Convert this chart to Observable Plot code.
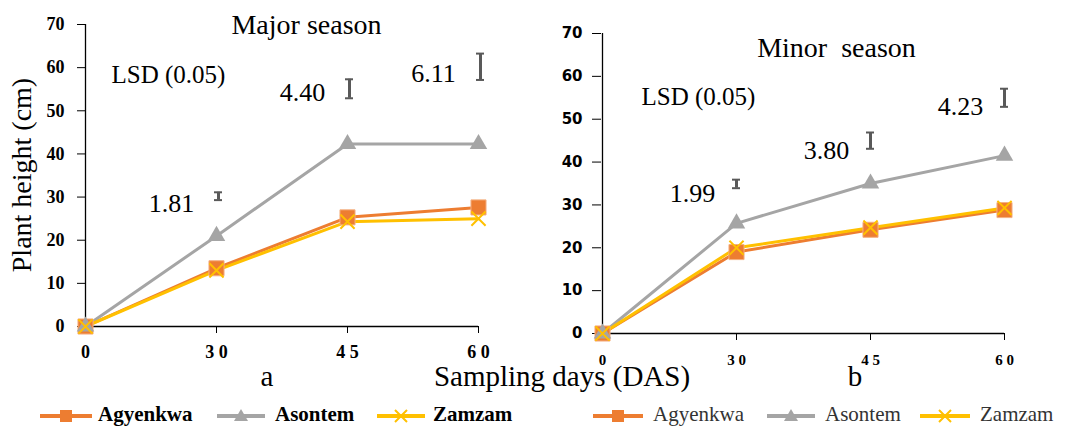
<!DOCTYPE html>
<html><head><meta charset="utf-8">
<script src="https://cdn.jsdelivr.net/npm/d3@7"></script>
<script src="https://cdn.jsdelivr.net/npm/@observablehq/plot@0.6"></script>
<style>
body{margin:0;background:#fff;}
#wrap{position:relative;width:1075px;height:427px;overflow:hidden;font-family:"Liberation Serif","Times New Roman",serif;color:#000;}
.abs{position:absolute;white-space:nowrap;line-height:1;}
</style></head><body><div id="wrap"></div>
<script>
// ---- data ----
const days = ["0", "30", "45", "60"];
const series = ["Agyenkwa", "Asontem", "Zamzam"];
const colors = ["#ED7D31", "#A5A5A5", "#FFC000"];
const symbols = ["square", "triangle", "times"];

const majorAgyenkwa = [0, 13.5, 25.3, 27.6];
const majorAsontem  = [0, 21.0, 42.3, 42.3];
const majorZamzam   = [0, 13.0, 24.3, 25.0];

const minorAgyenkwa = [0, 19.0, 24.2, 28.8];
const minorAsontem  = [0, 25.7, 35.0, 41.5];
const minorZamzam   = [0, 20.0, 24.7, 29.3];

const lsdDays = ["30", "45", "60"];
const majorLSD = [1.81, 4.40, 6.11];
const majorLSDMid = [30.2, 55.1, 60.2];
const minorLSD = [1.99, 3.80, 4.23];
const minorLSDMid = [34.9, 45.0, 55.0];

const yTicks = [0, 10, 20, 30, 40, 50, 60, 70];

// ---- build ----
function rows(arrs) {
  const out = [];
  series.forEach((s, i) => days.forEach((d, j) => out.push({series: s, day: d, value: arrs[i][j]})));
  return out;
}
function lsdRows(vals, mids) {
  return lsdDays.map((d, i) => ({day: d, lsd: vals[i], lo: mids[i] - vals[i] / 2, hi: mids[i] + vals[i] / 2}));
}
const serif = "'Liberation Serif', 'Times New Roman', serif";
const sans = "'DejaVu Sans', Verdana, sans-serif";

function panel(cfg) {
  const data = rows(cfg.values);
  const lsd = lsdRows(cfg.lsd, cfg.mid);
  const marks = [
    Plot.ruleY([0], {stroke: "#000", strokeWidth: 1.3}),
    Plot.ruleX(["0"], {stroke: "#000", strokeWidth: 1.3}),
    Plot.axisY({ticks: yTicks, tickSize: cfg.ytickSize, tickPadding: cfg.ytickPad, label: null, stroke: "#000",
      fontSize: cfg.yFont, fontWeight: "bold", fontFamily: cfg.yFamily}),
    Plot.axisX({tickSize: 7, tickPadding: cfg.xtickPad, label: null, tickFormat: d => d.split("").join(" "), stroke: "#000",
      fontSize: cfg.xFont, fontWeight: "bold", fontFamily: serif})
  ];
  series.forEach((s, i) => {
    const sd = data.filter(r => r.series === s);
    marks.push(Plot.line(sd, {x: "day", y: "value", stroke: colors[i], strokeWidth: 3}));
  });
  series.forEach((s, i) => {
    const sd = data.filter(r => r.series === s);
    if (symbols[i] === "square")
      marks.push(Plot.dot(sd, {x: "day", y: "value", symbol: "square", r: 8.5, fill: colors[i], stroke: "#F4B183", strokeWidth: 1}));
    else if (symbols[i] === "triangle")
      marks.push(Plot.dot(sd, {x: "day", y: "value", symbol: "triangle", r: 6.5, fill: colors[i], stroke: "none"}));
    else
      marks.push(Plot.dot(sd, {x: "day", y: "value", symbol: "times", r: 6.5, stroke: colors[i], strokeWidth: 2}));
  });
  marks.push(
    Plot.ruleX(lsd, {x: "day", y1: "lo", y2: "hi", stroke: "#595959", strokeWidth: 3, dx: cfg.barDx}),
    Plot.ruleY(lsd, {x1: "day", x2: "day", y: "lo", stroke: "#595959", strokeWidth: 2, insetLeft: -4 + cfg.barDx, insetRight: -4 - cfg.barDx}),
    Plot.ruleY(lsd, {x1: "day", x2: "day", y: "hi", stroke: "#595959", strokeWidth: 2, insetLeft: -4 + cfg.barDx, insetRight: -4 - cfg.barDx}),
    Plot.text(lsd, {x: "day", y: (d, i) => cfg.labelY[i], dx: cfg.labelDx, text: d => d.lsd.toFixed(2), fontSize: 26, fontFamily: serif, fill: "#000"}),
    Plot.text(["LSD (0.05)"], {x: () => "0", y: () => cfg.lsdTitleY, dx: cfg.lsdTitleDx, text: d => d, fontSize: 25, fontFamily: serif, fill: "#000"}),
    Plot.text([cfg.title], {x: () => "30", y: () => cfg.titleY, dx: cfg.titleDx, text: d => d, fontSize: 28, fontFamily: serif, fill: "#000"})
  );
  const svg = Plot.plot({
    width: cfg.width, height: 427,
    marginLeft: cfg.ml, marginRight: cfg.mr, marginTop: cfg.mt, marginBottom: cfg.mb,
    x: {type: "point", domain: days, padding: 0},
    y: {domain: [0, 70]},
    style: {background: "transparent", overflow: "visible", fontFamily: serif},
    marks
  });
  svg.querySelectorAll("g").forEach(g => {
    const a = g.getAttribute("aria-label") || "";
    if (a.includes("tick label")) {
      const isY = a.startsWith("y");
      g.querySelectorAll("text").forEach(t => {
        t.style.fontFamily = isY ? cfg.yFamily : serif;
        t.style.fontSize = (isY ? cfg.yFont : cfg.xFont) + "px";
        t.style.fontWeight = "bold";
      });
    }
  });
  svg.style.position = "absolute";
  svg.style.left = cfg.left + "px";
  svg.style.top = "0px";
  return svg;
}

const wrap = document.getElementById("wrap");
wrap.appendChild(panel({
  values: [majorAgyenkwa, majorAsontem, majorZamzam], lsd: majorLSD, mid: majorLSDMid,
  left: 0, width: 540, ml: 85, mr: 62, mt: 24, mb: 101,
  ytickSize: 8, ytickPad: 13, yFont: 18, yFamily: serif, xtickPad: 12, xFont: 18,
  barDx: 2, labelY: [28.5, 54.1, 58.7], labelDx: -45, lsdTitleY: 58.2, lsdTitleDx: 83,
  title: "Major season", titleY: 69.8, titleDx: 90
}));
wrap.appendChild(panel({
  values: [minorAgyenkwa, minorAsontem, minorZamzam], lsd: minorLSD, mid: minorLSDMid,
  left: 540, width: 535, ml: 61, mr: 71, mt: 33, mb: 94,
  ytickSize: 9, ytickPad: 10, yFont: 15, yFamily: sans, xtickPad: 14, xFont: 15,
  barDx: 0, labelY: [32.7, 42.7, 53.0], labelDx: -44, lsdTitleY: 55.1, lsdTitleDx: 96,
  title: "Minor  season", titleY: 66.7, titleDx: 100
}));

// ---- HTML text ----
function addText(txt, x, y, css) {
  const d = document.createElement("div");
  d.className = "abs";
  d.textContent = txt;
  d.style.left = x + "px"; d.style.top = y + "px";
  Object.assign(d.style, css || {});
  wrap.appendChild(d);
  return d;
}
addText("Plant height (cm)", 22, 175, {fontSize: "28px", transform: "translate(-50%,-50%) rotate(-90deg)"});
addText("Sampling days (DAS)", 562, 376, {fontSize: "29px", transform: "translate(-50%,-50%)"});
addText("a", 267, 376, {fontSize: "29px", transform: "translate(-50%,-50%)"});
addText("b", 855, 376, {fontSize: "29px", transform: "translate(-50%,-50%)"});

// ---- legends ----
function swatch(i, w) {
  const ns = "http://www.w3.org/2000/svg";
  const svg = document.createElementNS(ns, "svg");
  svg.setAttribute("width", w); svg.setAttribute("height", 20);
  const line = document.createElementNS(ns, "line");
  line.setAttribute("x1", 0); line.setAttribute("x2", w); line.setAttribute("y1", 10); line.setAttribute("y2", 10);
  line.setAttribute("stroke", colors[i]); line.setAttribute("stroke-width", 4);
  svg.appendChild(line);
  const path = document.createElementNS(ns, "path");
  const c = w / 2;
  if (symbols[i] === "square") { path.setAttribute("d", `M${c-6},4h12v12h-12z`); path.setAttribute("fill", colors[i]); }
  else if (symbols[i] === "triangle") { path.setAttribute("d", `M${c},3L${c+7},15L${c-7},15z`); path.setAttribute("fill", colors[i]); }
  else { path.setAttribute("d", `M${c-6},4L${c+6},16M${c+6},4L${c-6},16`); path.setAttribute("stroke", colors[i]); path.setAttribute("stroke-width", 2); path.setAttribute("fill", "none"); }
  svg.appendChild(path);
  return svg;
}
function legend(items, css) {
  items.forEach((it, i) => {
    const sw = swatch(i, it.w);
    sw.style.position = "absolute"; sw.style.left = it.sx + "px"; sw.style.top = "406px";
    wrap.appendChild(sw);
    addText(series[i], it.tx, 414, Object.assign({fontSize: "21px", transform: "translateY(-50%)"}, css));
  });
}
legend([{sx: 40, w: 52, tx: 98}, {sx: 217, w: 48, tx: 275}, {sx: 377, w: 48, tx: 433}], {fontWeight: "bold", color: "#000"});
legend([{sx: 593, w: 50, tx: 653}, {sx: 767, w: 48, tx: 825}, {sx: 920, w: 50, tx: 980}], {color: "#333"});
</script></body></html>
